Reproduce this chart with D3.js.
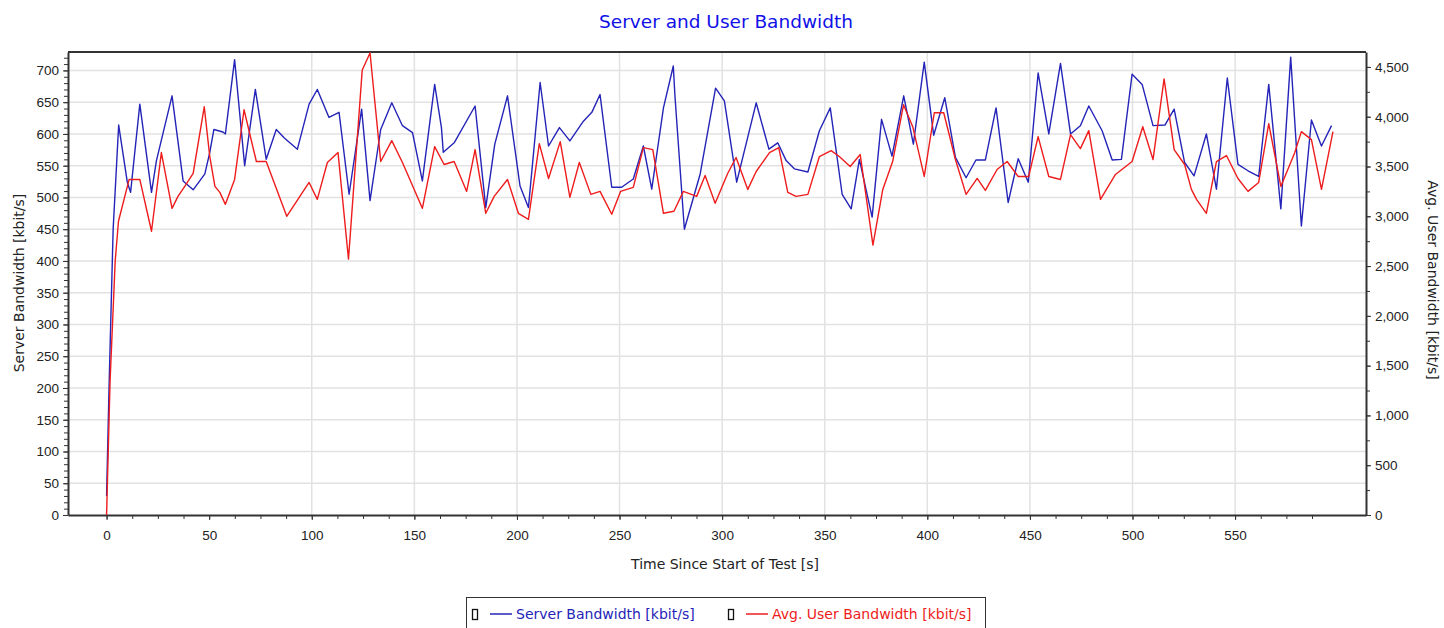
<!DOCTYPE html>
<html>
<head>
<meta charset="utf-8">
<script src="https://cdn.jsdelivr.net/npm/d3@7"></script>
<style>
  body { margin: 0; background: #fff; }
  svg { display: block; font-family: "DejaVu Sans", sans-serif; }
  .axis path, .axis line { stroke: #333; }
  .axis text { fill: #222; font-size: 13.5px; }
</style>
</head>
<body>
<svg width="1444" height="628"></svg>
<script>
// Server bandwidth (left axis, kbit/s)
var serverTime = [0, 1.2, 3.2, 5.9, 10.1, 11.7, 16.2, 21.9, 24.3, 31.9, 37.3, 42.2, 47.9, 50.3, 52.3, 56.7, 57.9, 62.4, 67.3, 72.5,
  77.8, 82.7, 86.5, 93, 98.7, 102.7, 108.4, 113.3, 118.2, 124.3, 128.4, 133.6, 139, 144.2, 149.1, 153.9, 159.9, 163.2, 164.1, 169.4,
  179.6, 184.8, 189.2, 195.4, 201.5, 205.6, 211.3, 215.4, 220.7, 225.8, 232.4, 236.5, 240.5, 246.2, 251, 256.7, 261.6, 265.7, 271.4, 276.2,
  277, 281.6, 289.3, 296.8, 301.1, 307.1, 316.6, 322.8, 327.1, 331.2, 335.2, 341.8, 347.4, 352.7, 358.5, 362.9, 366.9, 373.1, 377.7, 382.8,
  388.5, 393.2, 398.5, 403.1, 408.5, 413.7, 418.9, 423.7, 428.3, 433.5, 439.4, 444.3, 449.2, 454, 459.2, 464.9, 469.8, 474.6, 478.7, 485.2,
  490.1, 494.6, 499.8, 504.7, 510, 515.8, 520.3, 525.4, 530, 536, 540.9, 546.2, 551.4, 556.3, 561.5, 566.4, 572.3, 577.1, 582.3, 587.2,
  592.1, 597];
var serverBw = [30, 200, 450, 614, 524, 508, 647, 508, 558, 660, 526, 512, 537, 571, 607, 603, 600, 717, 550, 670,
  560, 607, 594, 576, 647, 670, 626, 634, 505, 639, 495, 607, 649, 613, 602, 526, 678, 610, 571, 586,
  644, 484, 584, 660, 518, 484, 681, 581, 610, 589, 620, 634, 662, 516, 516, 529, 581, 513, 641, 707,
  660, 450, 537, 672, 652, 524, 649, 576, 586, 558, 545, 540, 605, 641, 505, 482, 560, 469, 623, 565,
  660, 584, 713, 598, 657, 563, 531, 559, 559, 641, 492, 561, 524, 696, 600, 711, 600, 613, 644, 605,
  559, 560, 694, 678, 613, 614, 639, 555, 534, 600, 513, 688, 552, 542, 533, 678, 482, 721, 455, 622,
  581, 613];

// Avg. user bandwidth (right axis, kbit/s)
var userTime = [0, 1.7, 4.2, 5.8, 11, 16.2, 21.9, 26.7, 31.9, 34.8, 38.1, 42.2, 47.6, 50.3, 52.8, 55.2, 57.9, 62.4, 67, 73,
  77.8, 87.8, 98.7, 102.7, 107.6, 112.8, 117.9, 124.6, 128.4, 133.6, 139, 144.2, 153.9, 159.9, 164.5, 169.4, 175.5, 179.6, 184.8, 188.9,
  195.4, 200.7, 205.6, 210.9, 215.4, 221.1, 225.8, 230.4, 236, 240.5, 246.2, 250.5, 256.7, 261.6, 266.2, 271.4, 276.5, 281.1, 287.6, 291.7,
  296.6, 302.7, 306.8, 312.5, 316.6, 323.1, 327.6, 332, 336, 341.8, 347.4, 353.1, 357.1, 362.4, 367.3, 373.5, 378.3, 383.1, 388.4, 392.9,
  398.5, 403.4, 408, 413.7, 418.9, 424.3, 428.3, 434, 438.9, 444.3, 449.4, 454, 459.2, 464.9, 469.8, 474.6, 478.7, 484.4, 491.7, 499.8,
  505, 510, 515.4, 520.3, 525.4, 528.7, 531.2, 536, 540.9, 545.8, 551.4, 556.3, 561.5, 566.4, 572.3, 579.1, 582.3, 587.2, 592.1, 597.7];
var userBw = [0, 1340, 2550, 2950, 3370, 3370, 2850, 3640, 3080, 3200, 3300, 3430, 4100, 3600, 3300, 3240, 3120, 3370, 4070, 3550,
  3550, 3000, 3340, 3170, 3540, 3640, 2570, 4470, 4640, 3550, 3760, 3540, 3080, 3700, 3520, 3550, 3250, 3670, 3030, 3200,
  3370, 3030, 2970, 3730, 3380, 3750, 3190, 3540, 3220, 3250, 3020, 3250, 3290, 3690, 3670, 3030, 3050, 3250, 3200, 3410,
  3130, 3430, 3590, 3270, 3450, 3640, 3690, 3240, 3200, 3220, 3600, 3660, 3600, 3500, 3620, 2710, 3270, 3550, 4120, 3900,
  3400, 4040, 4040, 3570, 3220, 3380, 3260, 3470, 3550, 3400, 3400, 3800, 3400, 3370, 3820, 3680, 3860, 3170, 3420, 3550,
  3900, 3570, 4380, 3670, 3520, 3270, 3170, 3030, 3550, 3610, 3380, 3250, 3340, 3930, 3300, 3640, 3850, 3770, 3270, 3850];

var xTicks = d3.range(0, 551, 50);
var xGridTicks = d3.range(100, 551, 50);
var leftTicks = d3.range(0, 701, 50);
var rightTicks = d3.range(0, 4501, 500);

var svg = d3.select("svg"),
    plotLeft = 68, plotRight = 1366, plotTop = 52, plotBottom = 515;

var x = d3.scaleLinear().domain([-18.8, 613.8]).range([plotLeft, plotRight]),
    yL = d3.scaleLinear().domain([0, 729]).range([plotBottom, plotTop]),
    yR = d3.scaleLinear().domain([0, 4650]).range([plotBottom, plotTop]);

// title
svg.append("text")
    .attr("x", 726).attr("y", 28)
    .attr("text-anchor", "middle")
    .attr("fill", "#1010e8")
    .style("font-size", "18.5px")
    .text("Server and User Bandwidth");

// grid
svg.append("g").selectAll("line")
    .data(leftTicks.slice(1))
  .enter().append("line")
    .attr("x1", plotLeft).attr("x2", plotRight)
    .attr("y1", function(d) { return yL(d); })
    .attr("y2", function(d) { return yL(d); })
    .attr("stroke", "#e2e2e2").attr("stroke-width", 1.5);

svg.append("g").selectAll("line")
    .data(xGridTicks)
  .enter().append("line")
    .attr("x1", function(d) { return x(d); })
    .attr("x2", function(d) { return x(d); })
    .attr("y1", plotTop).attr("y2", plotBottom)
    .attr("stroke", "#e2e2e2").attr("stroke-width", 1.5);

// frame top
svg.append("line")
    .attr("x1", plotLeft).attr("x2", plotRight).attr("y1", plotTop).attr("y2", plotTop)
    .attr("stroke", "#333").attr("stroke-width", 2);

// axes: minor ticks first
svg.append("g").attr("class", "axis")
    .attr("transform", "translate(0," + plotBottom + ")")
    .call(d3.axisBottom(x).tickValues(d3.range(0, 600, 12.5)).tickSize(4).tickFormat(""))
    .select(".domain").remove();
svg.append("g").attr("class", "axis")
    .attr("transform", "translate(" + plotLeft + ",0)")
    .call(d3.axisLeft(yL).tickValues(d3.range(0, 730, 10)).tickSize(4).tickFormat(""))
    .select(".domain").remove();
svg.append("g").attr("class", "axis")
    .attr("transform", "translate(" + plotRight + ",0)")
    .call(d3.axisRight(yR).tickValues(d3.range(0, 4650, 250)).tickSize(4).tickFormat(""))
    .select(".domain").remove();

var xAxis = svg.append("g").attr("class", "axis")
    .attr("transform", "translate(0," + plotBottom + ")")
    .call(d3.axisBottom(x).tickValues(xTicks).tickSize(5).tickSizeOuter(0).tickPadding(10));
xAxis.select(".domain").attr("stroke-width", 2);

var yAxisL = svg.append("g").attr("class", "axis")
    .attr("transform", "translate(" + plotLeft + ",0)")
    .call(d3.axisLeft(yL).tickValues(leftTicks).tickSize(5).tickSizeOuter(0).tickPadding(4));
yAxisL.select(".domain").attr("stroke-width", 2);

var yAxisR = svg.append("g").attr("class", "axis")
    .attr("transform", "translate(" + plotRight + ",0)")
    .call(d3.axisRight(yR).tickValues(rightTicks).tickSize(5).tickSizeOuter(0).tickPadding(4).tickFormat(d3.format(",")));
yAxisR.select(".domain").attr("stroke-width", 2);

// axis titles
svg.append("text")
    .attr("transform", "translate(24,283) rotate(-90)")
    .attr("text-anchor", "middle").attr("fill", "#222")
    .style("font-size", "14px")
    .text("Server Bandwidth [kbit/s]");

svg.append("text")
    .attr("transform", "translate(1428,280) rotate(90)")
    .attr("text-anchor", "middle").attr("fill", "#222")
    .style("font-size", "14px")
    .text("Avg. User Bandwidth [kbit/s]");

svg.append("text")
    .attr("x", 725).attr("y", 569)
    .attr("text-anchor", "middle").attr("fill", "#222")
    .style("font-size", "14px")
    .text("Time Since Start of Test [s]");

// lines
var serverLine = d3.line()
    .x(function(d, i) { return x(serverTime[i]); })
    .y(function(d) { return yL(d); });
var userLine = d3.line()
    .x(function(d, i) { return x(userTime[i]); })
    .y(function(d) { return yR(d); });

svg.append("path")
    .datum(serverBw)
    .attr("fill", "none")
    .attr("stroke", "#2424b8")
    .attr("stroke-width", 1.4)
    .attr("stroke-linejoin", "round")
    .attr("d", serverLine);

svg.append("path")
    .datum(userBw)
    .attr("fill", "none")
    .attr("stroke", "#ee1c1c")
    .attr("stroke-width", 1.4)
    .attr("stroke-linejoin", "round")
    .attr("d", userLine);

// legend
var legend = svg.append("g");
legend.append("rect")
    .attr("x", 466.5).attr("y", 597.5).attr("width", 519).attr("height", 40)
    .attr("fill", "none").attr("stroke", "#333");

var items = [
  {name: "Server Bandwidth [kbit/s]", color: "#2424b8", x: 472},
  {name: "Avg. User Bandwidth [kbit/s]", color: "#ee1c1c", x: 728}
];
var li = legend.selectAll(".li").data(items).enter().append("g")
    .attr("transform", function(d) { return "translate(" + d.x + ",0)"; });
li.append("rect")
    .attr("x", 0.5).attr("y", 609.5).attr("width", 5).attr("height", 10)
    .attr("fill", "none").attr("stroke", "#111").attr("stroke-width", 1.3);
li.append("line")
    .attr("x1", 18).attr("x2", 40).attr("y1", 614).attr("y2", 614)
    .attr("stroke", function(d) { return d.color; }).attr("stroke-width", 1.5);
li.append("text")
    .attr("x", 44).attr("y", 619)
    .attr("fill", function(d) { return d.color; })
    .style("font-size", "14px")
    .text(function(d) { return d.name; });
</script>
</body>
</html>
